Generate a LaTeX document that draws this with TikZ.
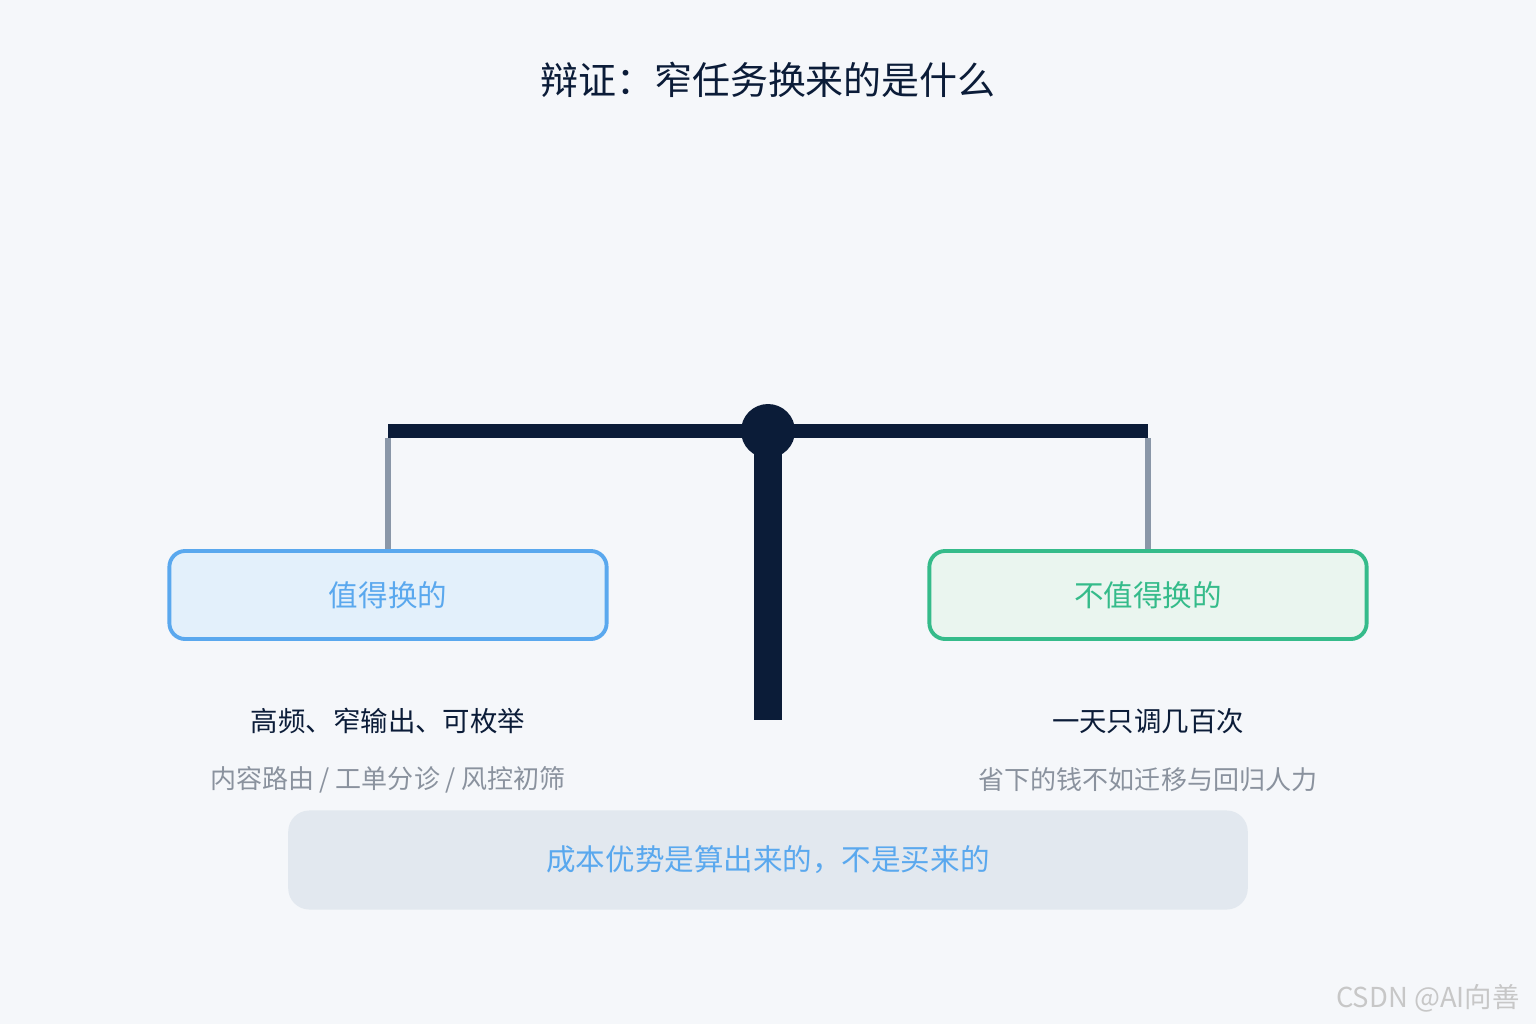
\documentclass[tikz,border=0pt]{standalone}
\usepackage{fontspec}
\setmainfont{Noto Sans CJK SC}
\usetikzlibrary{positioning}
\definecolor{bgc}{HTML}{F5F7FA}
\definecolor{navy}{HTML}{0B1C38}
\definecolor{rope}{HTML}{8A97A8}
\definecolor{leftfill}{HTML}{E3F0FB}
\definecolor{leftdraw}{HTML}{5AA8EE}
\definecolor{rightfill}{HTML}{EAF5EF}
\definecolor{rightdraw}{HTML}{35BB8A}
\definecolor{notefill}{HTML}{E2E8EF}
\definecolor{subgray}{HTML}{8A929E}
\begin{document}
\begin{tikzpicture}[
      x=0.01cm, y=-0.01cm,
      panbox/.style={
         rectangle,
         rounded corners=4.5pt,
         line width=1.1pt,
         minimum width=4.37cm,
         minimum height=0.88cm,
         inner sep=0pt,
         font=\fontsize{8.4}{10}\selectfont},
      headline/.style={font=\fontsize{7.8}{9}\selectfont, text=navy},
      subline/.style={font=\fontsize{7.4}{9}\selectfont, text=subgray},
      myrope/.style={draw=rope, line width=1.9pt}
      ]
      \fill[bgc] (0,0) rectangle (1536,1024);
      \useasboundingbox (0,0) rectangle (1536,1024);

      \node[font=\fontsize{10.8}{12}\selectfont, text=navy] (title) at (768,80) {辩证：窄任务换来的是什么};

      % scale
      \fill[navy] (754,431) rectangle (782,720);
      \fill[navy] (388,424) rectangle (1148,438);
      \fill[navy] (768,431) circle (27);
      \coordinate (lhook) at (388,438);
      \coordinate (rhook) at (1148,438);

      \node[panbox, fill=leftfill, draw=leftdraw, text=leftdraw] (worth) at (388,595) {值得换的};
      \node[panbox, fill=rightfill, draw=rightdraw, text=rightdraw] (notworth) at (1148,595) {不值得换的};
      \draw[myrope] (lhook) -- (worth.north);
      \draw[myrope] (rhook) -- (notworth.north);

      \node[headline] (worthhead) at (388,721) {高频、窄输出、可枚举};
      \node[subline] (worthsub) at (388,780) {内容路由 / 工单分诊 / 风控初筛};
      \node[headline] (nothead) at (1148,721) {一天只调几百次};
      \node[subline] (notsub) at (1148,780) {省下的钱不如迁移与回归人力};

      \node[rectangle, rounded corners=6pt, fill=notefill, minimum width=9.59cm, minimum height=0.99cm,
            text=leftdraw, font=\fontsize{8.4}{10}\selectfont] (note) at (768,860) {成本优势是算出来的，不是买来的};

      \node[font=\fontsize{7.8}{9}\selectfont, text=black!22, anchor=east] (mark) at (1532,998) {CSDN @AI向善};
\end{tikzpicture}
\end{document}
